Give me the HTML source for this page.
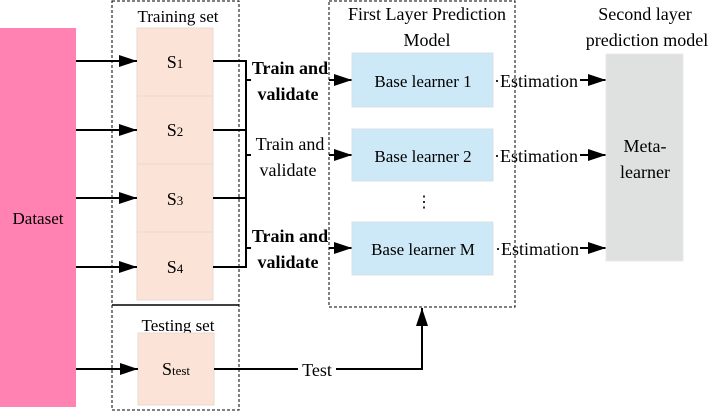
<!DOCTYPE html>
<html><head><meta charset="utf-8"><style>
body{margin:0;background:#fff;}
svg text{font-family:"Liberation Serif","DejaVu Serif",serif;}
</style></head><body>
<svg width="711" height="412" viewBox="0 0 711 412" xmlns="http://www.w3.org/2000/svg" font-family="Liberation Serif, DejaVu Serif, serif">
<defs>
<marker id="b" markerWidth="18" markerHeight="12" refX="18" refY="6" orient="auto" markerUnits="userSpaceOnUse"><path d="M0,0 L18,6 L0,12 z" fill="#000"/></marker></defs>
<rect x="0" y="28" width="76" height="379" fill="#ff82b2"/>
<text x="38" y="224" font-size="17" text-anchor="middle">Dataset</text>
<rect x="112" y="1" width="127" height="409" fill="none" stroke="#000" stroke-dasharray="3,2"/>
<line x1="112" y1="305" x2="239" y2="305" stroke="#000" stroke-width="1.5"/>
<text x="178" y="22" font-size="17" text-anchor="middle">Training set</text>
<text x="178" y="331" font-size="17" text-anchor="middle">Testing set</text>
<g fill="#fce3d8" stroke="#e8d8d0">
<rect x="137" y="28" width="76" height="68"/><rect x="137" y="96" width="76" height="68"/>
<rect x="137" y="164" width="76" height="68"/><rect x="137" y="232" width="76" height="68"/>
<rect x="138" y="333" width="76" height="72"/></g>
<g font-size="18" text-anchor="middle">
<text x="175" y="68">S<tspan font-size="13">1</tspan></text>
<text x="175" y="136">S<tspan font-size="13">2</tspan></text>
<text x="175" y="205">S<tspan font-size="13">3</tspan></text>
<text x="175" y="273">S<tspan font-size="13">4</tspan></text>
<text x="176" y="375">S<tspan font-size="13">test</tspan></text></g>
<g stroke="#000" stroke-width="2">
<line x1="76" y1="61" x2="137" y2="61" marker-end="url(#b)"/>
<line x1="76" y1="130" x2="137" y2="130" marker-end="url(#b)"/>
<line x1="76" y1="198" x2="137" y2="198" marker-end="url(#b)"/>
<line x1="76" y1="267" x2="137" y2="267" marker-end="url(#b)"/>
<line x1="76" y1="369" x2="138" y2="369" marker-end="url(#b)"/>
<polyline points="213,61 246,61 246,267 213,267" fill="none"/>
<line x1="213" y1="130" x2="246" y2="130"/><line x1="213" y1="198" x2="246" y2="198"/>
<line x1="246" y1="80" x2="251" y2="80"/><line x1="246" y1="155" x2="251" y2="155"/><line x1="246" y1="248" x2="251" y2="248"/>
<line x1="329" y1="80" x2="352" y2="80" marker-end="url(#b)"/>
<line x1="329" y1="155" x2="352" y2="155" marker-end="url(#b)"/>
<line x1="329" y1="248" x2="352" y2="248" marker-end="url(#b)"/>
<line x1="580" y1="80" x2="606" y2="80" marker-end="url(#b)"/>
<line x1="580" y1="155" x2="606" y2="155" marker-end="url(#b)"/>
<line x1="580" y1="248" x2="606" y2="248" marker-end="url(#b)"/>
<polyline points="214,369 422,369 422,308" fill="none" marker-end="url(#b)"/>
</g>
<rect x="298" y="358" width="38" height="20" fill="#fff"/>
<text x="317" y="376" font-size="18" text-anchor="middle">Test</text>
<g font-size="18" text-anchor="middle">
<text x="290" y="74" font-weight="bold">Train and</text><text x="288" y="100" font-weight="bold">validate</text>
<text x="290" y="150">Train and</text><text x="288" y="176">validate</text>
<text x="290" y="242" font-weight="bold">Train and</text><text x="288" y="268" font-weight="bold">validate</text>
</g>
<rect x="329" y="1" width="186" height="306" fill="none" stroke="#000" stroke-dasharray="3,2"/>
<text x="427" y="20" font-size="18" text-anchor="middle">First Layer Prediction</text>
<text x="427" y="46" font-size="18" text-anchor="middle">Model</text>
<g fill="#cde9f7" stroke="#d8e0e4"><rect x="352" y="53" width="141" height="54"/><rect x="352" y="129" width="141" height="52"/><rect x="352" y="222" width="141" height="53"/></g>
<g font-size="17" text-anchor="middle"><text x="423" y="87">Base learner 1</text><text x="423" y="162">Base learner 2</text><text x="423" y="255">Base learner M</text></g>
<text x="424" y="207" font-size="16" text-anchor="middle">⋮</text>
<g font-size="18"><text x="494" y="87">·Estimation</text><text x="494" y="162">·Estimation</text><text x="495" y="255">·Estimation</text></g>
<rect x="606" y="54" width="77" height="207" fill="#dfe1e0" stroke="#e8e8e8"/>
<text x="645" y="152" font-size="18" text-anchor="middle">Meta-</text>
<text x="645" y="178" font-size="18" text-anchor="middle">learner</text>
<text x="645" y="20" font-size="18" text-anchor="middle">Second layer</text>
<text x="647" y="46" font-size="18" text-anchor="middle">prediction model</text>
</svg>
</body></html>
